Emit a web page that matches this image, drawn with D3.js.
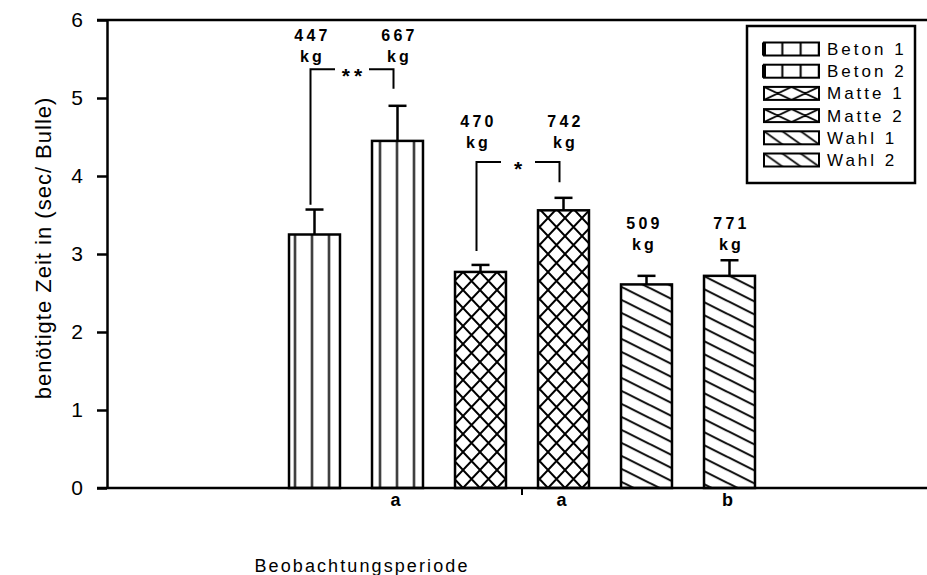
<!DOCTYPE html>
<html>
<head>
<meta charset="utf-8">
<script src="https://cdn.jsdelivr.net/npm/d3@7"></script>
<style>
  html, body { margin: 0; padding: 0; background: #fff; }
  svg { display: block; }
  text { font-family: "Liberation Sans", Arial, sans-serif; fill: #000; }
</style>
</head>
<body>
<svg id="chart" width="927" height="575"></svg>
<script>
// Bars: mean handling time per bull, one bar per floor/period
const categories = ["Beton 1", "Beton 2", "Matte 1", "Matte 2", "Wahl 1", "Wahl 2"];
const means      = [3.25, 4.45, 2.77, 3.56, 2.61, 2.72];
const errors     = [0.32, 0.45, 0.09, 0.16, 0.11, 0.20];
const fills      = ["beton", "beton", "matte", "matte", "wahl", "wahl"];

// Body weight annotations above each bar (value level in axis units)
const weights     = ["447", "667", "470", "742", "509", "771"];
const weightLevel = [5.73, 5.73, 4.63, 4.63, 3.32, 3.32];

// Group letters under the second bar of each pair
const groupLabels = ["a", "a", "b"];
const groupLabelBars = [1, 3, 5];

// Significance brackets (levels in axis units)
const brackets = [
  { from: 0, to: 1, top: 5.37, leftEnd: 3.63, rightEnd: 5.12, mark: "**" },
  { from: 2, to: 3, top: 4.18, leftEnd: 3.04, rightEnd: 3.92, mark: "*" }
];

const yTicks = [0, 1, 2, 3, 4, 5, 6];

const svg = d3.select("#chart");
const W = 927;
const axisX = 107, plotTop = 20, plotBottom = 488;

const y = d3.scaleLinear().domain([0, 6]).range([plotBottom, plotTop]);
const x = d3.scaleBand().domain(categories)
  .range([273, 771]).paddingInner(0.386).paddingOuter(0.193);
const cx = i => x(categories[i]) + x.bandwidth() / 2;

// ---- hatch patterns ----
const defs = svg.append("defs");
function vlinePattern(id, px, w, h, py) {
  const p = defs.append("pattern").attr("id", id).attr("patternUnits", "userSpaceOnUse")
    .attr("x", px).attr("y", py || 0).attr("width", w).attr("height", h);
  p.append("line").attr("x1", w / 2).attr("x2", w / 2).attr("y1", -1).attr("y2", h + 1)
    .attr("stroke", "#000").attr("stroke-width", 2);
}
function crossPattern(id, px, py, w, h, sw) {
  const p = defs.append("pattern").attr("id", id).attr("patternUnits", "userSpaceOnUse")
    .attr("x", px).attr("y", py).attr("width", w).attr("height", h);
  let d = "";
  for (const k of [-1, 0, 1]) {
    d += `M${k * w},0L${(k + 1) * w},${h}M${(k + 1) * w},0L${k * w},${h}`;
  }
  p.append("path").attr("d", d).attr("stroke", "#000").attr("stroke-width", sw).attr("fill", "none");
}
function diagPattern(id, px, py, w, h, sw) {
  const p = defs.append("pattern").attr("id", id).attr("patternUnits", "userSpaceOnUse")
    .attr("x", px).attr("y", py).attr("width", w).attr("height", h);
  let d = "";
  for (const k of [-1, 0, 1]) {
    d += `M${-w},${-h + k * h}L${2 * w},${2 * h + k * h}`;
  }
  p.append("path").attr("d", d).attr("stroke", "#000").attr("stroke-width", sw).attr("fill", "none");
}
vlinePattern("beton", -2.5, 17, 20);
crossPattern("matte", 4, 2, 17, 18, 2);
diagPattern("wahl", 0, 2.2, 26, 13, 2);

// ---- frame line along the top ----
svg.append("line").attr("x1", 97).attr("x2", W).attr("y1", y(6)).attr("y2", y(6))
  .attr("stroke", "#000").attr("stroke-width", 2.5);

// ---- y axis ----
const yAxis = svg.append("g").attr("transform", `translate(${axisX},0)`)
  .call(d3.axisLeft(y).tickValues(yTicks).tickFormat(d3.format("d"))
    .tickSize(10).tickSizeOuter(0).tickPadding(14));
yAxis.select(".domain").attr("stroke-width", 2.5);
yAxis.selectAll(".tick line").attr("stroke-width", 2.5);
yAxis.selectAll(".tick text").style("font-size", "21px")
  .style("font-family", "'Liberation Sans', Arial, sans-serif");

svg.append("text")
  .attr("transform", `translate(51,248) rotate(-90)`)
  .attr("text-anchor", "middle").style("font-size", "22px").style("letter-spacing", "1px")
  .text("benötigte Zeit in (sec/ Bulle)");

// ---- bars ----
const bars = svg.append("g");
bars.selectAll("rect").data(means).join("rect")
  .attr("x", (d, i) => x(categories[i]))
  .attr("y", d => y(d))
  .attr("width", x.bandwidth())
  .attr("height", d => y(0) - y(d))
  .attr("fill", (d, i) => `url(#${fills[i]})`)
  .attr("stroke", "#000").attr("stroke-width", 2.5);

// upper error bars
const eb = svg.append("g").attr("stroke", "#000").attr("stroke-width", 2.5);
means.forEach((m, i) => {
  eb.append("line").attr("x1", cx(i)).attr("x2", cx(i)).attr("y1", y(m)).attr("y2", y(m + errors[i]));
  eb.append("line").attr("x1", cx(i) - 9).attr("x2", cx(i) + 9)
    .attr("y1", y(m + errors[i])).attr("y2", y(m + errors[i]));
});

// ---- x axis ----
svg.append("line").attr("x1", 97).attr("x2", W).attr("y1", y(0)).attr("y2", y(0))
  .attr("stroke", "#000").attr("stroke-width", 2.5);
const midTick = (cx(2) + cx(3)) / 2;
svg.append("line").attr("x1", midTick).attr("x2", midTick).attr("y1", y(0)).attr("y2", y(0) + 7)
  .attr("stroke", "#000").attr("stroke-width", 2);

svg.append("g").selectAll("text").data(groupLabels).join("text")
  .attr("x", (d, i) => cx(groupLabelBars[i]) - 2)
  .attr("y", y(0) + 18)
  .attr("text-anchor", "middle")
  .style("font-size", "18px").style("font-weight", "bold")
  .text(d => d);

svg.append("text").attr("x", 362).attr("y", 572).attr("text-anchor", "middle")
  .style("font-size", "18px").style("letter-spacing", "2.1px")
  .text("Beobachtungsperiode");

// ---- weight annotations ----
const ann = svg.append("g").style("font-size", "16px").style("font-weight", "bold")
  .style("letter-spacing", "3.2px").attr("text-anchor", "middle");
weights.forEach((w, i) => {
  const xx = cx(i) - (i % 2 === 0 ? 4 : 0) + 2;
  ann.append("text").attr("x", xx).attr("y", y(weightLevel[i])).text(w);
  ann.append("text").attr("x", xx).attr("y", y(weightLevel[i]) + 21).text("kg");
});

// ---- significance brackets ----
const br = svg.append("g");
brackets.forEach(b => {
  const x1 = cx(b.from) - 4, x2 = cx(b.to) - 4, mid = (x1 + x2) / 2;
  const gap = 17;
  br.append("path")
    .attr("d", `M${x1},${y(b.leftEnd)}V${y(b.top)}H${mid - gap}M${mid + gap},${y(b.top)}H${x2}V${y(b.rightEnd)}`)
    .attr("fill", "none").attr("stroke", "#000").attr("stroke-width", 2);
  br.append("text").attr("x", mid + 2).attr("y", y(b.top) + 14).attr("text-anchor", "middle")
    .style("font-size", "21px").style("font-weight", "bold").style("letter-spacing", "4px")
    .text(b.mark);
});

// ---- legend ----
const lg = svg.append("g");
lg.append("rect").attr("x", 747).attr("y", 26).attr("width", 168).attr("height", 157)
  .attr("fill", "#fff").attr("stroke", "#000").attr("stroke-width", 2.5);
const swX = 764, swW = 55, swH = 13;
categories.forEach((c, i) => {
  const cy = 49 + i * 22.2;
  const top = cy - swH / 2;
  const pid = "lg" + i;
  if (fills[i] === "beton") vlinePattern(pid, swX - swW / 6, swW / 3, swH, top);
  else if (fills[i] === "matte") crossPattern(pid, swX, top, swW / 2, swH, 1.8);
  else diagPattern(pid, swX, top, swW / 3, swH, 1.8);
  lg.append("rect").attr("x", swX).attr("y", top).attr("width", swW).attr("height", swH)
    .attr("fill", `url(#${pid})`).attr("stroke", "#000").attr("stroke-width", 2);
  if (fills[i] === "beton") {
    lg.append("line").attr("x1", swX).attr("x2", swX).attr("y1", top).attr("y2", top + swH)
      .attr("stroke", "#000").attr("stroke-width", 4);
  }
  lg.append("text").attr("x", 827).attr("y", cy + 6)
    .style("font-size", "17px").style("letter-spacing", "3px").text(c);
});
</script>
</body>
</html>
